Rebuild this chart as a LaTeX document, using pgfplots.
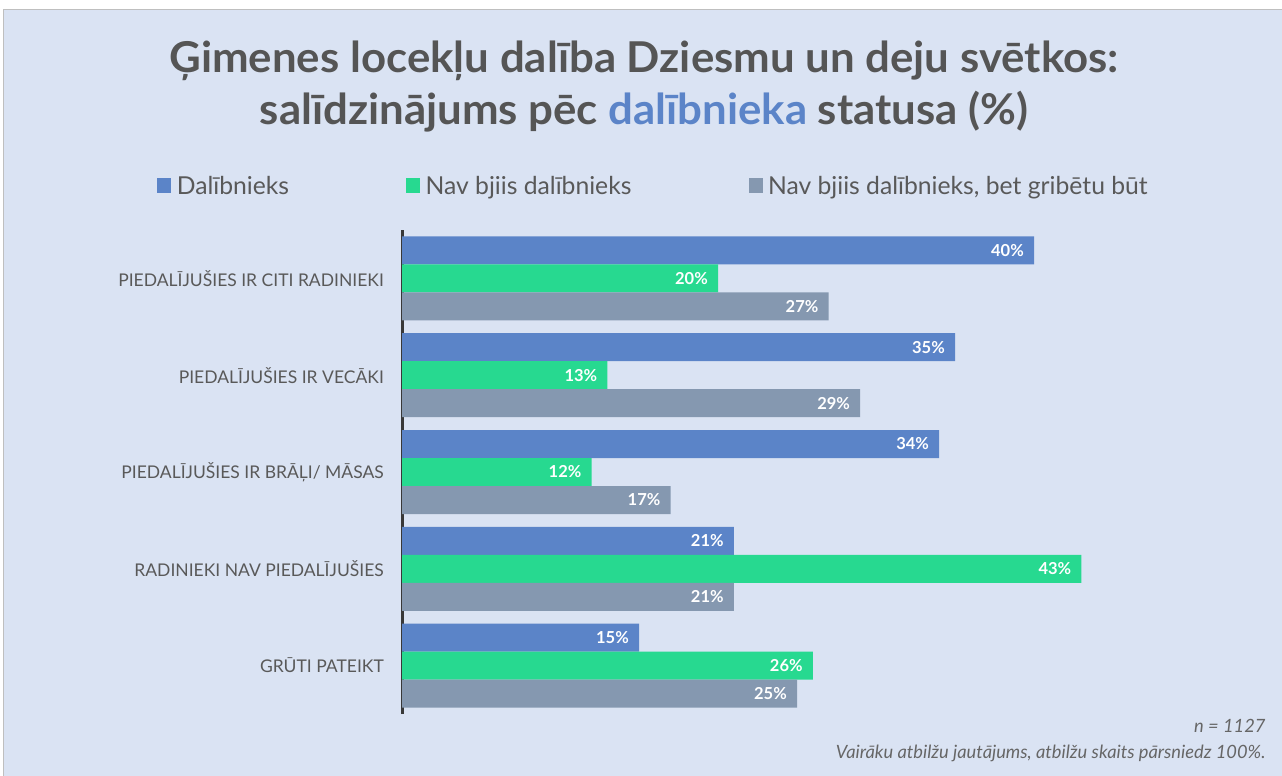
\documentclass[border=0pt]{standalone}
\usepackage{fontspec}
\setmainfont{Lato}
\newfontfamily\titlefont{Lato}[FakeStretch=1.03]
\usepackage{pgfplots}
\usepackage{pgfplotstable}
\pgfplotsset{compat=1.18}
\definecolor{bg}{HTML}{DAE3F3}
\definecolor{cblue}{HTML}{5B84C8}
\definecolor{cgreen}{HTML}{27D990}
\definecolor{cgray}{HTML}{8598B0}
\definecolor{txt}{HTML}{595959}
\definecolor{ttl}{HTML}{555555}

\pgfplotstableread{
cat a b c
4 40 20 27
3 35 13 29
2 34 12 17
1 21 43 21
0 15 26 25
}\data

\begin{document}
\begin{tikzpicture}[x=1pt,y=1pt]
\useasboundingbox (0,0) rectangle (1282,-776);
\fill[white] (0,0) rectangle (1282,-776);
\fill[bg] (3,-10) rectangle (1282,-776);
\draw[black!25, line width=1pt] (3,-776) -- (3,-10) -- (1282,-10);
\node[anchor=base, font=\titlefont\bfseries\fontsize{42.5}{48}\selectfont, text=ttl] at (644,-72) {Ģimenes locekļu dalība Dziesmu un deju svētkos:};
\node[anchor=base, font=\titlefont\bfseries\fontsize{42.5}{48}\selectfont, text=ttl] at (644,-124) {salīdzinājums pēc \textcolor{cblue}{dalībnieka} statusa (\%)};
\begin{axis}[
  at={(402pt,-714pt)}, anchor=south west,
  width=790pt, height=484pt, scale only axis,
  xmin=0, xmax=50, ymin=-0.5, ymax=4.5,
  xbar, bar width=28pt, clip=false,
  axis x line=none, axis y line=left,
  axis line style={-, draw=black!78, line width=3pt},
  ytick={0,...,4},
  yticklabels={GRŪTI PATEIKT, RADINIEKI NAV PIEDALĪJUŠIES, PIEDALĪJUŠIES IR BRĀĻI/ MĀSAS, PIEDALĪJUŠIES IR VECĀKI, PIEDALĪJUŠIES IR CITI RADINIEKI},
  major tick length=0pt,
  yticklabel style={font=\fontsize{17.5}{20}\selectfont, text=txt, inner sep=0pt, xshift=-18pt},
  /pgf/number format/assume math mode=true,
  nodes near coords={\pgfmathprintnumber{\pgfplotspointmeta}\%},
  point meta=x,
  every node near coord/.append style={anchor=east, xshift=-10pt, text=white, font=\bfseries\fontsize{16.5}{18}\selectfont, inner sep=0pt},
  legend columns=3,
  legend style={at={(axis description cs:-0.310,1.091)}, anchor=west, draw=none, fill=none, inner sep=0pt,
    font=\fontsize{24.7}{27}\selectfont, text=txt,
    /tikz/every even column/.append style={column sep=115pt}},
  legend image code/.code={\fill[#1,draw=none] (0pt,-7.5pt) rectangle (14pt,7.5pt); \path (17.5pt,0pt);},
]
\addplot[fill=cblue, draw=none, bar shift=28pt] table[x=a,y=cat]{\data};
\addlegendentry{Dalībnieks}
\addplot[fill=cgreen, draw=none, bar shift=0pt] table[x=b,y=cat]{\data};
\addlegendentry{Nav bjiis dalībnieks}
\addplot[fill=cgray, draw=none, bar shift=-28pt] table[x=c,y=cat]{\data};
\addlegendentry{Nav bjiis dalībnieks, bet gribētu būt}
\end{axis}
\node[anchor=base east, font=\itshape\fontsize{18.3}{20}\selectfont, text=black!60] at (1269,-732) {n = 1127};
\node[anchor=base east, font=\itshape\fontsize{18.3}{20}\selectfont, text=black!60] at (1269,-758) {Vairāku atbilžu jautājums, atbilžu skaits pārsniedz 100\%.};
\end{tikzpicture}
\end{document}
